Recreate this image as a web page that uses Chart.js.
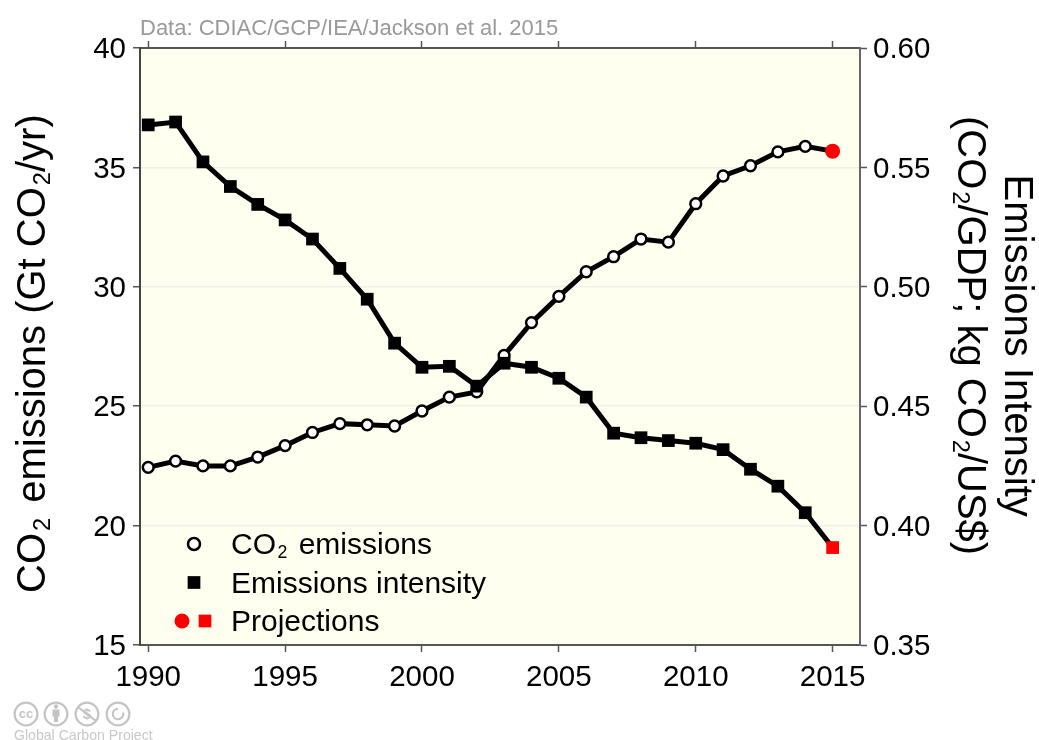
<!DOCTYPE html>
<html>
<head>
<meta charset="utf-8">
<title>CO2 emissions and emissions intensity</title>
<script src="https://cdn.jsdelivr.net/npm/chart.js@4"></script>
<style>
    html, body { margin: 0; padding: 0; background: #fff; }
    #wrap { position: relative; width: 1039px; height: 740px; }
</style>
</head>
<body>
<div id="wrap"><canvas id="co2Chart" width="1039" height="740"></canvas></div>
<script>
const years = [1990, 1991, 1992, 1993, 1994, 1995, 1996, 1997, 1998, 1999, 2000, 2001, 2002,
    2003, 2004, 2005, 2006, 2007, 2008, 2009, 2010, 2011, 2012, 2013, 2014, 2015];
const co2Emissions = [22.44, 22.70, 22.50, 22.50, 22.87, 23.35, 23.90, 24.27, 24.22, 24.17, 24.80, 25.38, 25.60,
    27.13, 28.50, 29.60, 30.63, 31.26, 32.00, 31.87, 33.48, 34.64, 35.07, 35.65, 35.88, 35.68];
const emissionsIntensity = [0.5678, 0.5690, 0.5523, 0.5420, 0.5345, 0.5280, 0.5200, 0.5077, 0.4948, 0.4764, 0.4663, 0.4667, 0.4584,
    0.4680, 0.4663, 0.4617, 0.4538, 0.4387, 0.4368, 0.4356, 0.4345, 0.4318, 0.4236, 0.4165, 0.4054, 0.3908];
const yearTicks = [1990, 1995, 2000, 2005, 2010, 2015];
const leftTicks = [15, 20, 25, 30, 35, 40];
const rightTicks = [0.35, 0.40, 0.45, 0.50, 0.55, 0.60];
// _2 marks a subscript two, these get split into runs by drawRuns
const legendLabels = ['CO_2 emissions', 'Emissions intensity', 'Projections'];
const leftTitle = 'CO_2 emissions (Gt CO_2/yr)';
const rightTitle = ['Emissions Intensity', '(CO_2/GDP; kg CO_2/US$)'];
const dataNote = 'Data: CDIAC/GCP/IEA/Jackson et al. 2015';
const footerNote = 'Global Carbon Project';

const fontFamily = '"Liberation Sans", Arial, sans-serif';
const axisColor = '#555';
const lastIndex = years.length - 1;

const isLast = ctx => ctx.dataIndex === lastIndex;

// canvas text has no subscripts, so walk the string piece by piece
function drawRuns(ctx, text, x, y, size, rotation) {
    const parts = text.split('_2');
    ctx.save();
    ctx.translate(x, y);
    ctx.rotate(rotation);
    ctx.textAlign = 'left';
    ctx.textBaseline = 'alphabetic';
    let pos = 0;
    parts.forEach((part, i) => {
        ctx.font = size + 'px ' + fontFamily;
        ctx.fillText(part, pos, 0);
        pos += ctx.measureText(part).width;
        if (i < parts.length - 1) {
            const subSize = size * 0.59;
            pos += size * 0.05;
            ctx.font = subSize + 'px ' + fontFamily;
            ctx.fillText('2', pos, size * 0.13);
            pos += ctx.measureText('2').width;
            // the original leaves a little air before a following space
            if (parts[i + 1].startsWith(' ')) pos += size * 0.1;
        }
    });
    ctx.restore();
}

// fill behind the plot, then the note, titles, legend and licence marks on top
const extras = {
    id: 'extras',
    beforeDraw(chart) {
        const a = chart.chartArea;
        const ctx = chart.ctx;
        ctx.save();
        ctx.fillStyle = '#fffff0';
        ctx.fillRect(a.left, a.top, a.right - a.left, a.bottom - a.top);
        ctx.restore();
    },
    afterDraw(chart) {
        const ctx = chart.ctx;
        const point = Chart.helpers.drawPoint;
        ctx.save();

        ctx.fillStyle = '#999';
        ctx.font = '22px ' + fontFamily;
        ctx.textAlign = 'left';
        ctx.textBaseline = 'alphabetic';
        ctx.fillText(dataNote, 140, 35);

        ctx.fillStyle = '#000';
        drawRuns(ctx, leftTitle, 45, 593, 40, -Math.PI / 2);
        drawRuns(ctx, rightTitle[0], 1005, 174.5, 40, Math.PI / 2);
        drawRuns(ctx, rightTitle[1], 958, 116, 40, Math.PI / 2);

        drawRuns(ctx, legendLabels[0], 231, 554, 30, 0);
        drawRuns(ctx, legendLabels[1], 231, 592.5, 30, 0);
        drawRuns(ctx, legendLabels[2], 231, 631, 30, 0);

        ctx.fillStyle = '#fff';
        ctx.strokeStyle = '#000';
        ctx.lineWidth = 2.5;
        point(ctx, { pointStyle: 'circle', radius: 6, borderWidth: 2.5, rotation: 0 }, 194, 544);
        ctx.fillStyle = '#000';
        ctx.lineWidth = 0;
        ctx.strokeStyle = 'transparent';
        point(ctx, { pointStyle: 'rect', radius: 9, borderWidth: 0, rotation: 0 }, 194, 582.5);
        ctx.fillStyle = '#f00';
        point(ctx, { pointStyle: 'circle', radius: 7.5, borderWidth: 0, rotation: 0 }, 182, 621);
        point(ctx, { pointStyle: 'rect', radius: 9, borderWidth: 0, rotation: 0 }, 205, 621);

        // licence marks
        const grey = '#c4c4c4';
        ctx.strokeStyle = grey;
        ctx.fillStyle = grey;
        ctx.lineWidth = 2.2;
        [26, 56, 87, 118].forEach(x => {
            ctx.beginPath();
            ctx.arc(x, 714, 11.4, 0, Math.PI * 2);
            ctx.stroke();
        });
        ctx.font = 'bold 13px ' + fontFamily;
        ctx.textAlign = 'center';
        ctx.fillText('cc', 26, 718);
        ctx.beginPath();
        ctx.arc(56, 706.5, 2.2, 0, Math.PI * 2);
        ctx.fill();
        ctx.fillRect(52.5, 709.5, 7, 7);
        ctx.fillRect(54, 716, 4, 6);
        ctx.font = 'bold 15px ' + fontFamily;
        ctx.fillText('$', 87, 719);
        ctx.beginPath();
        ctx.moveTo(78, 707);
        ctx.lineTo(96, 721);
        ctx.stroke();
        ctx.beginPath();
        ctx.arc(118, 714, 5.2, -0.3, Math.PI * 1.5);
        ctx.stroke();

        ctx.font = '14.1px ' + fontFamily;
        ctx.textAlign = 'left';
        ctx.fillStyle = '#c8c8c8';
        ctx.fillText(footerNote, 14, 740);
        ctx.restore();
    }
};

const tickFont = { family: fontFamily, size: 29.5 };
// y labels sit 2px low in the original: an empty first line with a 4px line height nudges them down
const nudgedTickFont = { family: fontFamily, size: 29.5, lineHeight: '4px' };

const co2Chart = new Chart(document.getElementById('co2Chart'), {
    type: 'line',
    data: {
        datasets: [{
            label: 'CO2 emissions',
            data: years.map((y, i) => ({ x: y, y: co2Emissions[i] })),
            xAxisID: 'x',
            yAxisID: 'y',
            order: 2,
            borderColor: '#000',
            borderWidth: 5,
            tension: 0,
            pointStyle: 'circle',
            pointRadius: ctx => isLast(ctx) ? 7.5 : 5.4,
            pointBorderWidth: ctx => isLast(ctx) ? 0 : 2.5,
            pointBorderColor: ctx => isLast(ctx) ? '#f00' : '#000',
            pointBackgroundColor: ctx => isLast(ctx) ? '#f00' : '#fff'
        }, {
            label: 'Emissions intensity',
            data: years.map((y, i) => ({ x: y, y: emissionsIntensity[i] })),
            xAxisID: 'x',
            yAxisID: 'y2',
            order: 1,
            borderColor: '#000',
            borderWidth: 5,
            tension: 0,
            pointStyle: 'rect',
            pointRadius: 9,
            pointBorderWidth: 0,
            pointBackgroundColor: ctx => isLast(ctx) ? '#f00' : '#000'
        }]
    },
    options: {
        responsive: false,
        animation: false,
        layout: { padding: 0 },
        plugins: {
            legend: { display: false },
            tooltip: { enabled: false }
        },
        scales: {
            x: {
                type: 'linear',
                position: 'bottom',
                min: 1989.7,
                max: 2016,
                afterBuildTicks: axis => { axis.ticks = yearTicks.map(v => ({ value: v })); },
                afterFit: axis => { axis.height = 95; },
                border: { color: axisColor, width: 2 },
                grid: { drawOnChartArea: false, tickColor: axisColor, tickLength: 7, tickWidth: 1.5 },
                ticks: {
                    color: '#000',
                    font: tickFont,
                    padding: 8,
                    maxRotation: 0,
                    autoSkip: false,
                    callback: v => String(v)
                }
            },
            xTop: {
                type: 'linear',
                position: 'top',
                min: 1989.7,
                max: 2016,
                afterBuildTicks: axis => { axis.ticks = yearTicks.map(v => ({ value: v })); },
                afterFit: axis => { axis.height = 48; },
                border: { color: axisColor, width: 2 },
                grid: { drawOnChartArea: false, tickColor: axisColor, tickLength: 7, tickWidth: 1.5 },
                ticks: { display: false }
            },
            y: {
                position: 'left',
                min: 15,
                max: 40,
                afterBuildTicks: axis => { axis.ticks = leftTicks.map(v => ({ value: v })); },
                afterFit: axis => { axis.width = 140; },
                border: { color: '#444', width: 2 },
                grid: { color: '#f0f0ea', lineWidth: 1.5, tickColor: axisColor, tickLength: 7, tickWidth: 1.5 },
                ticks: { color: '#000', font: nudgedTickFont, padding: 7, autoSkip: false, callback: v => ['', String(v)] }
            },
            y2: {
                position: 'right',
                min: 0.35,
                max: 0.60,
                afterBuildTicks: axis => { axis.ticks = rightTicks.map(v => ({ value: v })); },
                afterFit: axis => { axis.width = 179; },
                border: { color: '#666', width: 2 },
                grid: { drawOnChartArea: false, tickColor: axisColor, tickLength: 7, tickWidth: 1.5 },
                ticks: { color: '#000', font: nudgedTickFont, padding: 6, autoSkip: false, callback: v => ['', v.toFixed(2)] }
            }
        }
    },
    plugins: [extras]
});
</script>
</body>
</html>
